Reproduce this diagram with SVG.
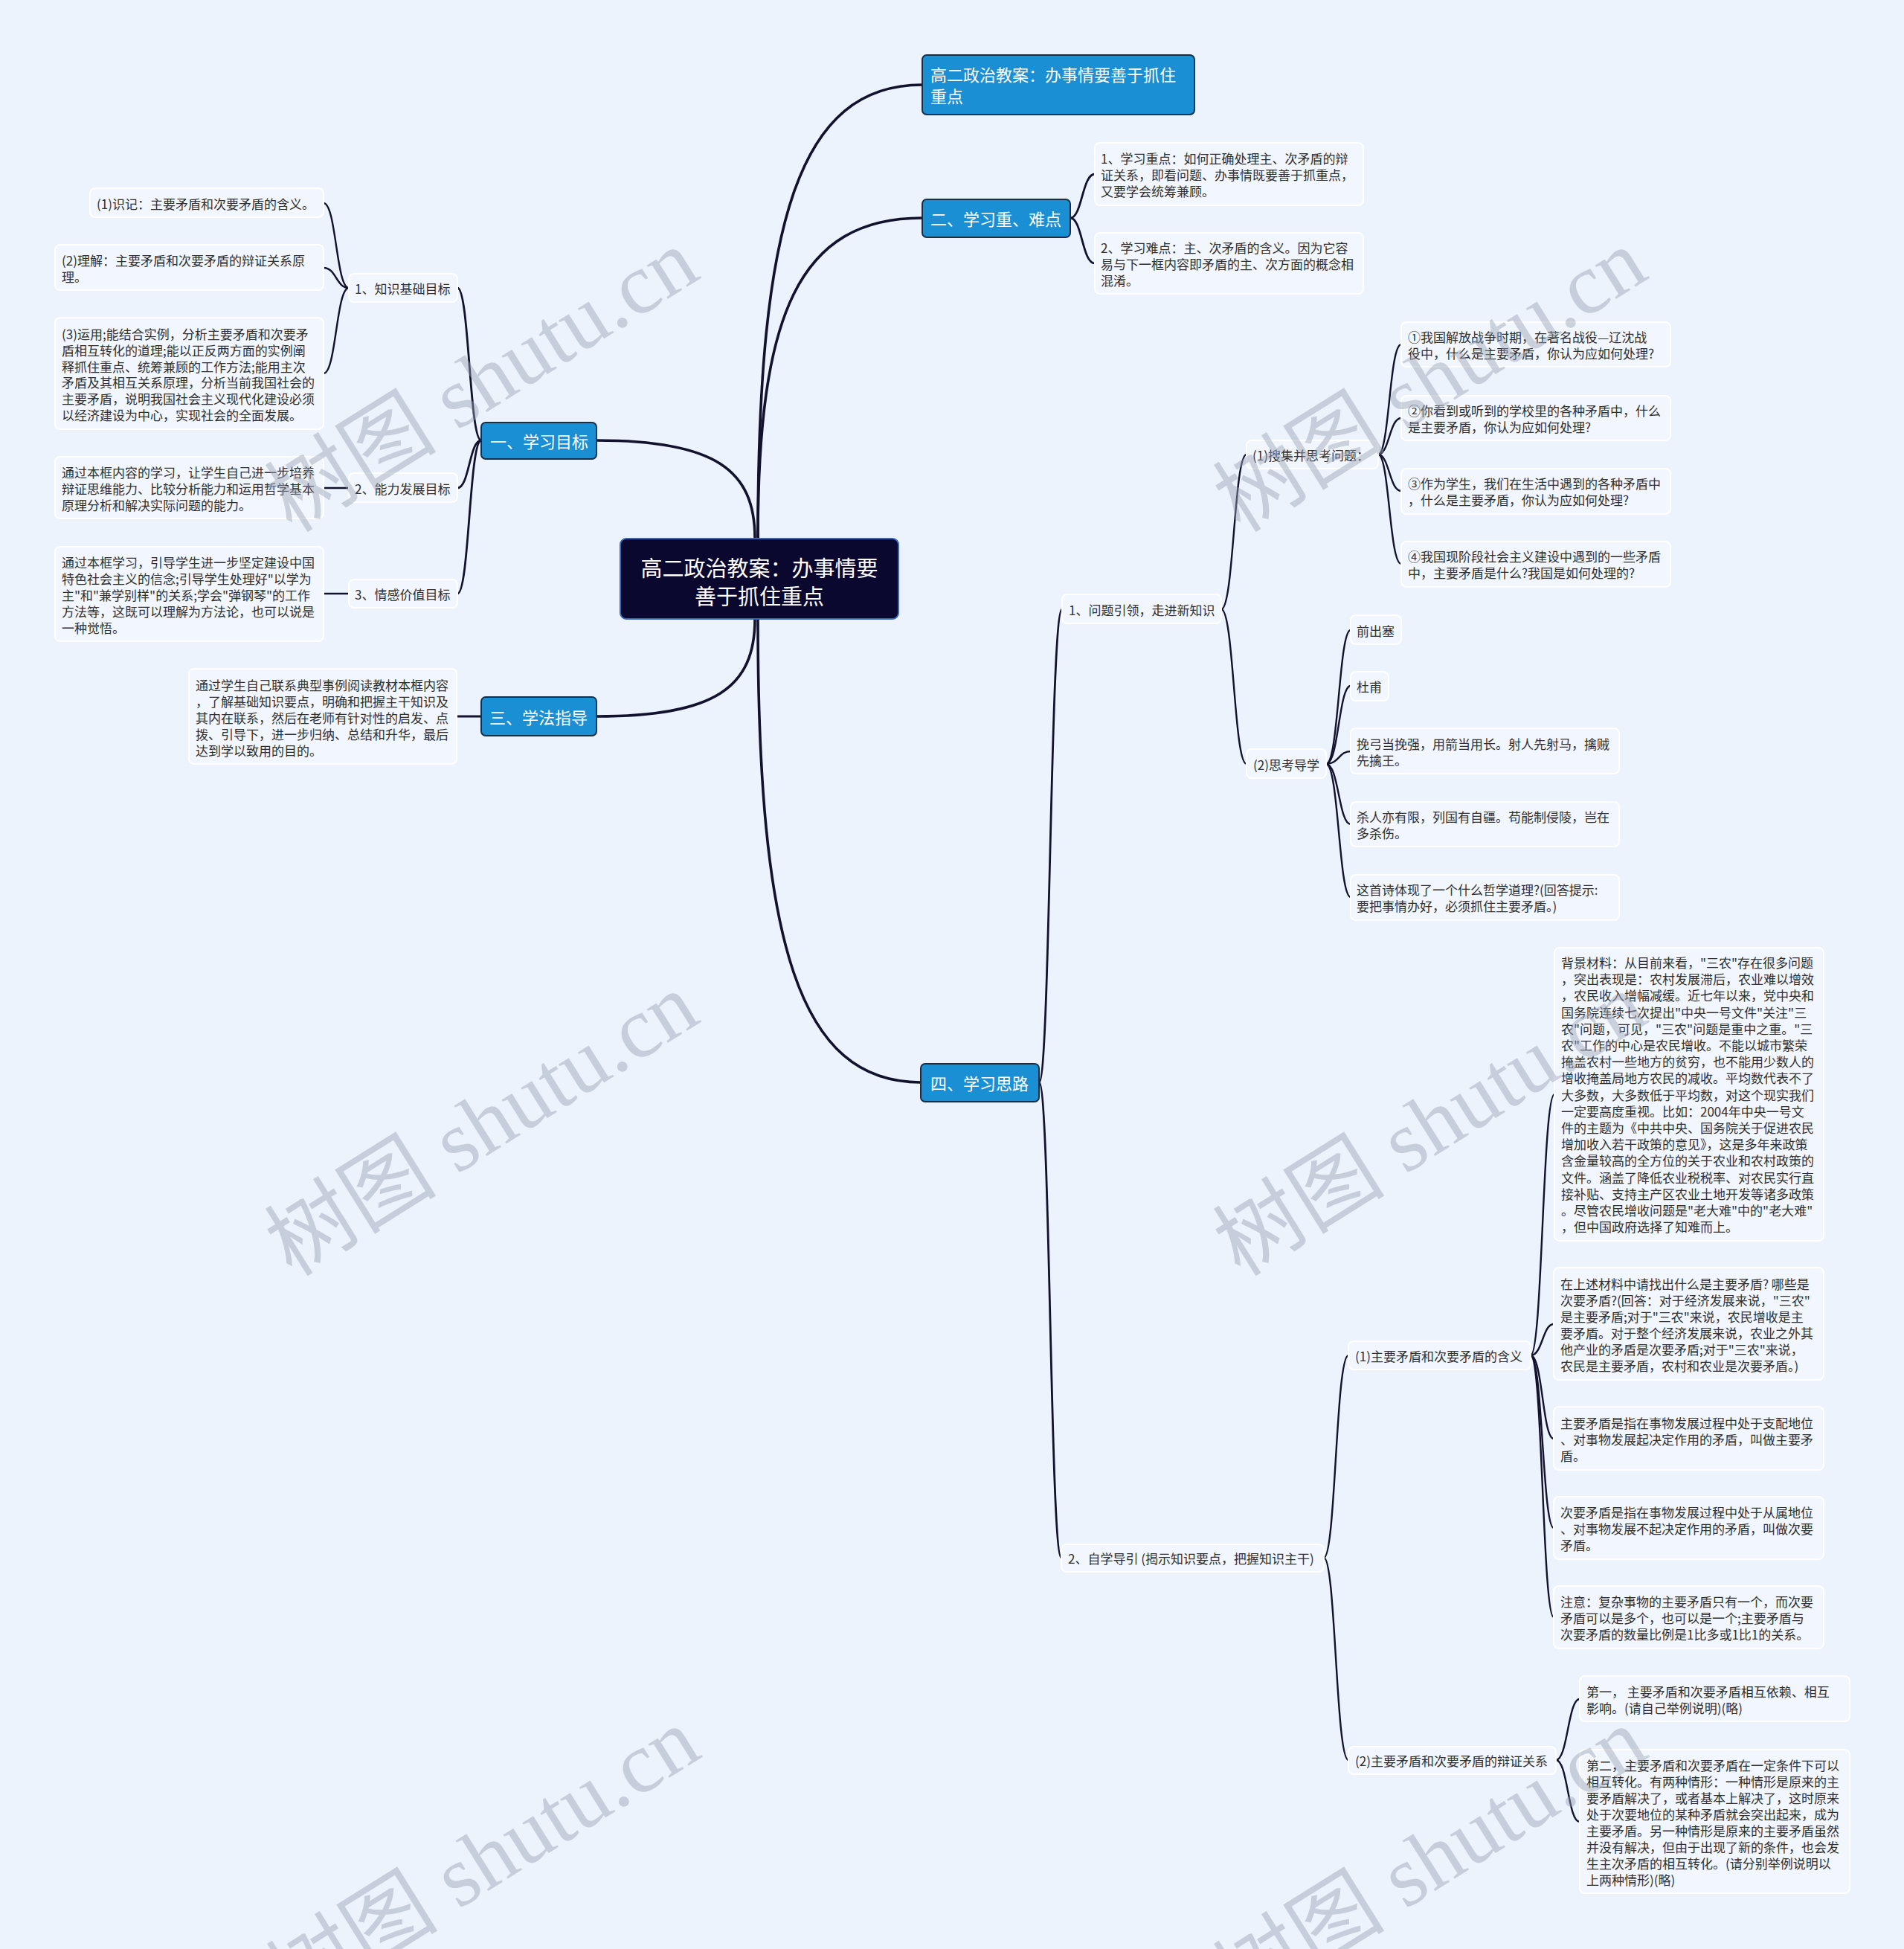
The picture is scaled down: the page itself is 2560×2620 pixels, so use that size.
<svg xmlns="http://www.w3.org/2000/svg" width="2560" height="2620" viewBox="0 0 2560 2620">
<style>
.edge{fill:none;stroke:#12122e;stroke-width:2.4;stroke-linecap:round}
.e0{stroke-width:3.6}
.e1{stroke-width:2.8}
.leaf{fill:#f2f6fe;stroke:#ffffff;stroke-width:2}
.main{fill:#1b8fd4;stroke:#12304c;stroke-width:2}
.root{fill:#0b0830;stroke:#3566b8;stroke-width:2}
.t{font-family:"Noto Sans CJK SC","Noto Sans",sans-serif;font-size:17px;fill:#2f2f2f;dominant-baseline:central}
.mt{font-family:"Noto Sans CJK SC","Noto Sans",sans-serif;font-size:22px;fill:#ffffff;dominant-baseline:central}
.rt{font-family:"Noto Sans CJK SC","Noto Sans",sans-serif;font-size:29px;fill:#ffffff;dominant-baseline:central;text-anchor:middle}
.wm{font-family:"Liberation Serif","Noto Sans CJK SC",serif;font-size:116px;fill:#9aa3b3;opacity:0.45;text-anchor:middle;dominant-baseline:central}
</style>
<rect x="0" y="0" width="2560" height="2620" fill="#edf3fd"/>

<g id="connectors">
  <path class="edge e0" d="M1019,724 C1019,297 1074,114 1240,114"/>
  <path class="edge e0" d="M1019,724 C1019,422 1074,293 1240,293"/>
  <path class="edge e0" d="M1019,832 C1019,1268 1074,1455 1238,1455"/>
  <path class="edge e0" d="M1015,724 C1015,632 962,592 802,592"/>
  <path class="edge e0" d="M1015,832 C1015,924 962,963 802,963"/>

  <path class="edge e1" d="M1439,293 C1455,293 1455,234 1472,234"/>
  <path class="edge e1" d="M1439,293 C1455,293 1455,354 1472,354"/>
  <path class="edge e1" d="M1397,1455 C1412,1455 1412,819 1428,819"/>
  <path class="edge e1" d="M1397,1455 C1412,1455 1412,2094 1427,2094"/>
  <path class="edge e1" d="M647,592 C631,592 631,387 615,387"/>
  <path class="edge e1" d="M647,592 C631,592 631,656 615,656"/>
  <path class="edge e1" d="M647,592 C631,592 631,798 615,798"/>
  <path class="edge e1" d="M647,963 L614,963"/>

  <path class="edge" d="M1642,819 C1659,819 1659,611 1676,611"/>
  <path class="edge" d="M1642,819 C1659,819 1659,1027 1676,1027"/>
  <path class="edge" d="M1853,611 C1868,611 1868,463 1884,463"/>
  <path class="edge" d="M1853,611 C1868,611 1868,562 1884,562"/>
  <path class="edge" d="M1853,611 C1868,611 1868,660 1884,660"/>
  <path class="edge" d="M1853,611 C1868,611 1868,758 1884,758"/>
  <path class="edge" d="M1783,1027 C1800,1027 1800,847 1816,847"/>
  <path class="edge" d="M1783,1027 C1800,1027 1800,922 1816,922"/>
  <path class="edge" d="M1783,1027 C1800,1027 1800,1010 1816,1010"/>
  <path class="edge" d="M1783,1027 C1800,1027 1800,1108 1816,1108"/>
  <path class="edge" d="M1783,1027 C1800,1027 1800,1206 1816,1206"/>
  <path class="edge" d="M1780,2094 C1796,2094 1796,1822 1813,1822"/>
  <path class="edge" d="M1780,2094 C1796,2094 1796,2366 1813,2366"/>
  <path class="edge" d="M2058,1822 C2074,1822 2074,1471 2090,1471"/>
  <path class="edge" d="M2058,1822 C2074,1822 2074,1780 2089,1780"/>
  <path class="edge" d="M2058,1822 C2074,1822 2074,1934 2089,1934"/>
  <path class="edge" d="M2058,1822 C2074,1822 2074,2054 2089,2054"/>
  <path class="edge" d="M2058,1822 C2074,1822 2074,2174 2089,2174"/>
  <path class="edge" d="M2092,2366 C2108,2366 2108,2284 2124,2284"/>
  <path class="edge" d="M2092,2366 C2108,2366 2108,2449 2124,2449"/>
  <path class="edge" d="M469,387 C452,387 452,273 435,273"/>
  <path class="edge" d="M469,387 C452,387 452,360 435,360"/>
  <path class="edge" d="M469,387 C452,387 452,502 435,502"/>
  <path class="edge" d="M469,656 L435,656"/>
  <path class="edge" d="M469,798 L435,798"/>
</g>

<g id="root">
  <rect class="root" x="834" y="724" width="374" height="108" rx="8"/>
  <text class="rt" x="1021" y="762">高二政治教案：办事情要</text>
  <text class="rt" x="1021" y="800">善于抓住重点</text>
</g>

<g id="n-title">
  <rect class="main" x="1240" y="74" width="366" height="80" rx="6"/>
  <text class="mt"><tspan x="1251" y="99">高二政治教案：办事情要善于抓住</tspan><tspan x="1251" y="128">重点</tspan></text>
</g>
<g id="n-2">
  <rect class="main" x="1240" y="268" width="199" height="51" rx="6"/>
  <text class="mt" x="1251" y="293">二、学习重、难点</text>
</g>
<g id="n-4">
  <rect class="main" x="1238" y="1430" width="159" height="51" rx="6"/>
  <text class="mt" x="1251" y="1455">四、学习思路</text>
</g>
<g id="n-1">
  <rect class="main" x="647" y="568" width="155" height="49" rx="6"/>
  <text class="mt" x="659" y="592">一、学习目标</text>
</g>
<g id="n-3">
  <rect class="main" x="647" y="937" width="155" height="52" rx="6"/>
  <text class="mt" x="658" y="963">三、学法指导</text>
</g>

<g id="n-1-1">
  <rect class="leaf" x="469" y="368" width="146" height="38" rx="7"/>
  <text class="t" x="477" y="387">1、知识基础目标</text>
</g>
<g id="n-1-1-a">
  <rect class="leaf" x="121" y="253" width="314" height="39" rx="7"/>
  <text class="t" x="130" y="273">(1)识记：主要矛盾和次要矛盾的含义。</text>
</g>
<g id="n-1-1-b">
  <rect class="leaf" x="74" y="329" width="361" height="61" rx="7"/>
  <text class="t"><tspan x="83" y="349">(2)理解：主要矛盾和次要矛盾的辩证关系原</tspan><tspan x="83" y="371">理。</tspan></text>
</g>
<g id="n-1-1-c">
  <rect class="leaf" x="74" y="427" width="361" height="150" rx="7"/>
  <text class="t"><tspan x="83" y="448">(3)运用;能结合实例，分析主要矛盾和次要矛</tspan><tspan x="83" y="470">盾相互转化的道理;能以正反两方面的实例阐</tspan><tspan x="83" y="492">释抓住重点、统筹兼顾的工作方法;能用主次</tspan><tspan x="83" y="513">矛盾及其相互关系原理，分析当前我国社会的</tspan><tspan x="83" y="535">主要矛盾，说明我国社会主义现代化建设必须</tspan><tspan x="83" y="557">以经济建设为中心，实现社会的全面发展。</tspan></text>
</g>
<g id="n-1-2">
  <rect class="leaf" x="469" y="636" width="146" height="39" rx="7"/>
  <text class="t" x="477" y="656">2、能力发展目标</text>
</g>
<g id="n-1-2-a">
  <rect class="leaf" x="74" y="614" width="361" height="83" rx="7"/>
  <text class="t"><tspan x="83" y="634">通过本框内容的学习，让学生自己进一步培养</tspan><tspan x="83" y="656">辩证思维能力、比较分析能力和运用哲学基本</tspan><tspan x="83" y="678">原理分析和解决实际问题的能力。</tspan></text>
</g>
<g id="n-1-3">
  <rect class="leaf" x="469" y="779" width="146" height="38" rx="7"/>
  <text class="t" x="477" y="798">3、情感价值目标</text>
</g>
<g id="n-1-3-a">
  <rect class="leaf" x="74" y="735" width="361" height="127" rx="7"/>
  <text class="t"><tspan x="83" y="755">通过本框学习，引导学生进一步坚定建设中国</tspan><tspan x="83" y="777">特色社会主义的信念;引导学生处理好"以学为</tspan><tspan x="83" y="799">主"和"兼学别样"的关系;学会"弹钢琴"的工作</tspan><tspan x="83" y="821">方法等，这既可以理解为方法论，也可以说是</tspan><tspan x="83" y="843">一种觉悟。</tspan></text>
</g>
<g id="n-3-a">
  <rect class="leaf" x="254" y="899" width="360" height="128" rx="7"/>
  <text class="t"><tspan x="263" y="920">通过学生自己联系典型事例阅读教材本框内容</tspan><tspan x="263" y="942">，了解基础知识要点，明确和把握主干知识及</tspan><tspan x="263" y="964">其内在联系，然后在老师有针对性的启发、点</tspan><tspan x="263" y="986">拨、引导下，进一步归纳、总结和升华，最后</tspan><tspan x="263" y="1008">达到学以致用的目的。</tspan></text>
</g>

<g id="n-2-a">
  <rect class="leaf" x="1472" y="192" width="361" height="84" rx="7"/>
  <text class="t"><tspan x="1480" y="212">1、学习重点：如何正确处理主、次矛盾的辩</tspan><tspan x="1480" y="234">证关系，即看问题、办事情既要善于抓重点，</tspan><tspan x="1480" y="256">又要学会统筹兼顾。</tspan></text>
</g>
<g id="n-2-b">
  <rect class="leaf" x="1472" y="313" width="361" height="82" rx="7"/>
  <text class="t"><tspan x="1480" y="332">2、学习难点：主、次矛盾的含义。因为它容</tspan><tspan x="1480" y="354">易与下一框内容即矛盾的主、次方面的概念相</tspan><tspan x="1480" y="376">混淆。</tspan></text>
</g>

<g id="n-4-1">
  <rect class="leaf" x="1428" y="799" width="214" height="39" rx="7"/>
  <text class="t" x="1437" y="819">1、问题引领，走进新知识</text>
</g>
<g id="n-4-1-1">
  <rect class="leaf" x="1676" y="592" width="177" height="38" rx="7"/>
  <text class="t" x="1684" y="611">(1)搜集并思考问题：</text>
</g>
<g id="n-q1">
  <rect class="leaf" x="1884" y="433" width="362" height="60" rx="7"/>
  <text class="t"><tspan x="1893" y="452">①我国解放战争时期，在著名战役—辽沈战</tspan><tspan x="1893" y="474">役中，什么是主要矛盾，你认为应如何处理?</tspan></text>
</g>
<g id="n-q2">
  <rect class="leaf" x="1884" y="532" width="362" height="60" rx="7"/>
  <text class="t"><tspan x="1893" y="551">②你看到或听到的学校里的各种矛盾中，什么</tspan><tspan x="1893" y="573">是主要矛盾，你认为应如何处理?</tspan></text>
</g>
<g id="n-q3">
  <rect class="leaf" x="1884" y="630" width="362" height="61" rx="7"/>
  <text class="t"><tspan x="1893" y="649">③作为学生，我们在生活中遇到的各种矛盾中</tspan><tspan x="1893" y="671">，什么是主要矛盾，你认为应如何处理?</tspan></text>
</g>
<g id="n-q4">
  <rect class="leaf" x="1884" y="728" width="362" height="61" rx="7"/>
  <text class="t"><tspan x="1893" y="747">④我国现阶段社会主义建设中遇到的一些矛盾</tspan><tspan x="1893" y="769">中，主要矛盾是什么?我国是如何处理的?</tspan></text>
</g>
<g id="n-4-1-2">
  <rect class="leaf" x="1676" y="1007" width="107" height="39" rx="7"/>
  <text class="t" x="1685" y="1027">(2)思考导学</text>
</g>
<g id="n-p1">
  <rect class="leaf" x="1816" y="827" width="68" height="39" rx="7"/>
  <text class="t" x="1824" y="847">前出塞</text>
</g>
<g id="n-p2">
  <rect class="leaf" x="1816" y="903" width="51" height="39" rx="7"/>
  <text class="t" x="1824" y="922">杜甫</text>
</g>
<g id="n-p3">
  <rect class="leaf" x="1816" y="979" width="361" height="61" rx="7"/>
  <text class="t"><tspan x="1824" y="999">挽弓当挽强，用箭当用长。射人先射马，擒贼</tspan><tspan x="1824" y="1021">先擒王。</tspan></text>
</g>
<g id="n-p4">
  <rect class="leaf" x="1816" y="1078" width="361" height="60" rx="7"/>
  <text class="t"><tspan x="1824" y="1097">杀人亦有限，列国有自疆。苟能制侵陵，岂在</tspan><tspan x="1824" y="1119">多杀伤。</tspan></text>
</g>
<g id="n-p5">
  <rect class="leaf" x="1816" y="1176" width="361" height="61" rx="7"/>
  <text class="t"><tspan x="1824" y="1195">这首诗体现了一个什么哲学道理?(回答提示:</tspan><tspan x="1824" y="1217">要把事情办好，必须抓住主要矛盾。)</tspan></text>
</g>

<g id="n-4-2">
  <rect class="leaf" x="1427" y="2076" width="353" height="37" rx="7"/>
  <text class="t" x="1436" y="2094">2、自学导引 (揭示知识要点，把握知识主干)</text>
</g>
<g id="n-4-2-1">
  <rect class="leaf" x="1813" y="1803" width="245" height="38" rx="7"/>
  <text class="t" x="1822" y="1822">(1)主要矛盾和次要矛盾的含义</text>
</g>
<g id="n-bg">
  <rect class="leaf" x="2090" y="1274" width="362" height="394" rx="7"/>
  <text class="t"><tspan x="2099" y="1293">背景材料：从目前来看，"三农"存在很多问题</tspan><tspan x="2099" y="1315">，突出表现是：农村发展滞后，农业难以增效</tspan><tspan x="2099" y="1337">，农民收入增幅减缓。近七年以来，党中央和</tspan><tspan x="2099" y="1360">国务院连续七次提出"中央一号文件"关注"三</tspan><tspan x="2099" y="1382">农"问题，可见，"三农"问题是重中之重。"三</tspan><tspan x="2099" y="1404">农"工作的中心是农民增收。不能以城市繁荣</tspan><tspan x="2099" y="1426">掩盖农村一些地方的贫穷，也不能用少数人的</tspan><tspan x="2099" y="1448">增收掩盖局地方农民的减收。平均数代表不了</tspan><tspan x="2099" y="1471">大多数，大多数低于平均数，对这个现实我们</tspan><tspan x="2099" y="1493">一定要高度重视。比如：2004年中央一号文</tspan><tspan x="2099" y="1515">件的主题为《中共中央、国务院关于促进农民</tspan><tspan x="2099" y="1537">增加收入若干政策的意见》，这是多年来政策</tspan><tspan x="2099" y="1559">含金量较高的全方位的关于农业和农村政策的</tspan><tspan x="2099" y="1582">文件。涵盖了降低农业税税率、对农民实行直</tspan><tspan x="2099" y="1604">接补贴、支持主产区农业土地开发等诸多政策</tspan><tspan x="2099" y="1626">。尽管农民增收问题是"老大难"中的"老大难"</tspan><tspan x="2099" y="1648">，但中国政府选择了知难而上。</tspan></text>
</g>
<g id="n-find">
  <rect class="leaf" x="2089" y="1704" width="363" height="151" rx="7"/>
  <text class="t"><tspan x="2098" y="1725">在上述材料中请找出什么是主要矛盾? 哪些是</tspan><tspan x="2098" y="1747">次要矛盾?(回答：对于经济发展来说，"三农"</tspan><tspan x="2098" y="1769">是主要矛盾;对于"三农"来说，农民增收是主</tspan><tspan x="2098" y="1791">要矛盾。对于整个经济发展来说，农业之外其</tspan><tspan x="2098" y="1813">他产业的矛盾是次要矛盾;对于"三农"来说，</tspan><tspan x="2098" y="1835">农民是主要矛盾，农村和农业是次要矛盾。)</tspan></text>
</g>
<g id="n-main">
  <rect class="leaf" x="2089" y="1891" width="363" height="85" rx="7"/>
  <text class="t"><tspan x="2098" y="1912">主要矛盾是指在事物发展过程中处于支配地位</tspan><tspan x="2098" y="1934">、对事物发展起决定作用的矛盾，叫做主要矛</tspan><tspan x="2098" y="1956">盾。</tspan></text>
</g>
<g id="n-minor">
  <rect class="leaf" x="2089" y="2012" width="363" height="84" rx="7"/>
  <text class="t"><tspan x="2098" y="2032">次要矛盾是指在事物发展过程中处于从属地位</tspan><tspan x="2098" y="2054">、对事物发展不起决定作用的矛盾，叫做次要</tspan><tspan x="2098" y="2076">矛盾。</tspan></text>
</g>
<g id="n-note">
  <rect class="leaf" x="2089" y="2132" width="363" height="84" rx="7"/>
  <text class="t"><tspan x="2098" y="2152">注意：复杂事物的主要矛盾只有一个，而次要</tspan><tspan x="2098" y="2174">矛盾可以是多个，也可以是一个;主要矛盾与</tspan><tspan x="2098" y="2196">次要矛盾的数量比例是1比多或1比1的关系。</tspan></text>
</g>
<g id="n-4-2-2">
  <rect class="leaf" x="1813" y="2348" width="279" height="37" rx="7"/>
  <text class="t" x="1822" y="2366">(2)主要矛盾和次要矛盾的辩证关系</text>
</g>
<g id="n-first">
  <rect class="leaf" x="2124" y="2253" width="363" height="61" rx="7"/>
  <text class="t"><tspan x="2133" y="2273">第一， 主要矛盾和次要矛盾相互依赖、相互</tspan><tspan x="2133" y="2295">影响。(请自己举例说明)(略)</tspan></text>
</g>
<g id="n-second">
  <rect class="leaf" x="2124" y="2352" width="363" height="193" rx="7"/>
  <text class="t"><tspan x="2133" y="2372">第二，主要矛盾和次要矛盾在一定条件下可以</tspan><tspan x="2133" y="2394">相互转化。有两种情形：一种情形是原来的主</tspan><tspan x="2133" y="2416">要矛盾解决了，或者基本上解决了，这时原来</tspan><tspan x="2133" y="2438">处于次要地位的某种矛盾就会突出起来，成为</tspan><tspan x="2133" y="2460">主要矛盾。另一种情形是原来的主要矛盾虽然</tspan><tspan x="2133" y="2482">并没有解决，但由于出现了新的条件，也会发</tspan><tspan x="2133" y="2504">生主次矛盾的相互转化。(请分别举例说明以</tspan><tspan x="2133" y="2526">上两种情形)(略)</tspan></text>
</g>

<g id="watermarks">
  <text class="wm" transform="translate(648,512) rotate(-32)">树图 shutu.cn</text>
  <text class="wm" transform="translate(648,1512) rotate(-32)">树图 shutu.cn</text>
  <text class="wm" transform="translate(650,2500) rotate(-32)">树图 shutu.cn</text>
  <text class="wm" transform="translate(1923,512) rotate(-32)">树图 shutu.cn</text>
  <text class="wm" transform="translate(1923,1512) rotate(-32)">树图 shutu.cn</text>
  <text class="wm" transform="translate(1923,2500) rotate(-32)">树图 shutu.cn</text>
</g>
</svg>
